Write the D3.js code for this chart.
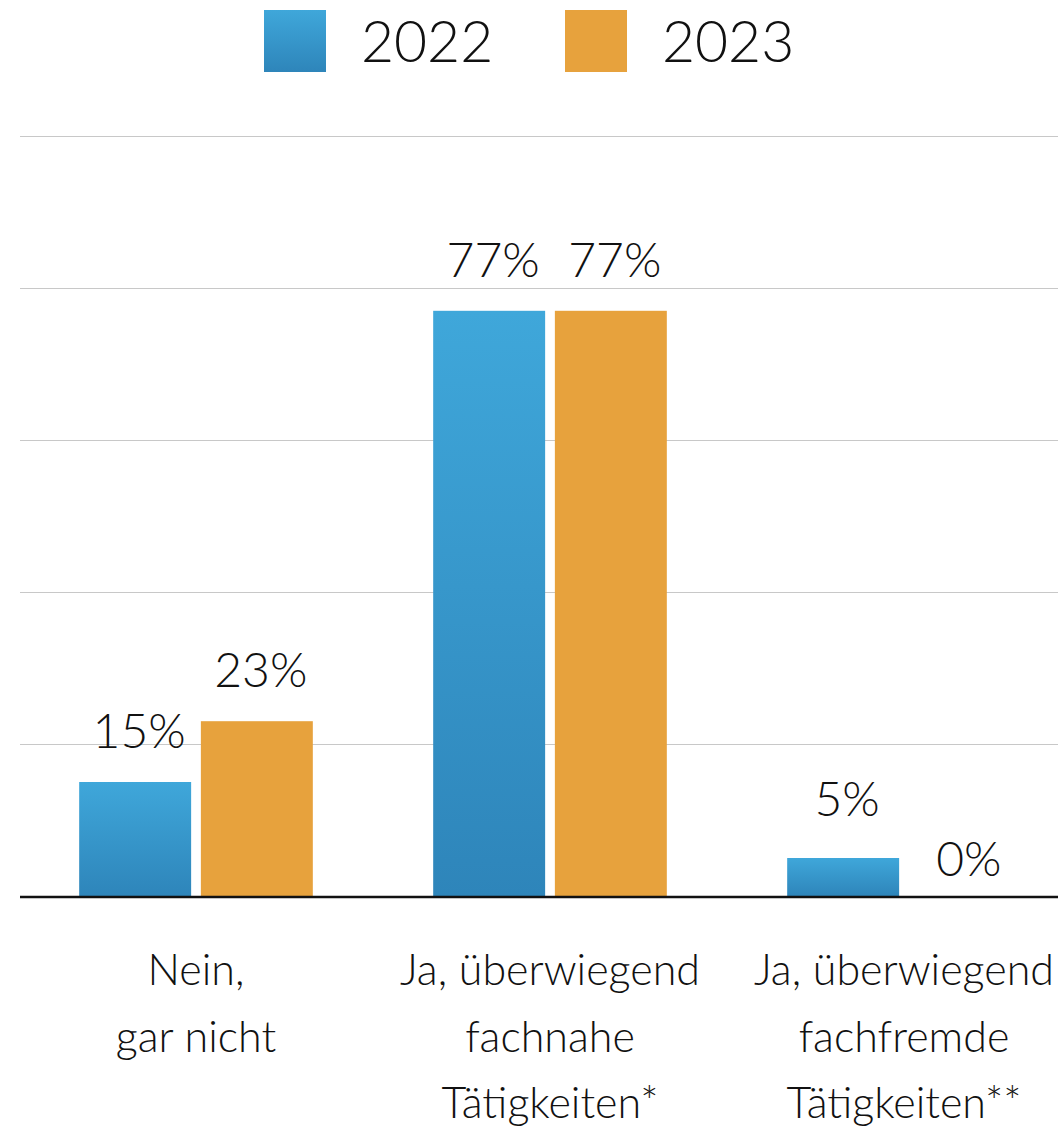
<!DOCTYPE html>
<html lang="de">
<head>
  <meta charset="UTF-8">
  <title>Tätigkeiten 2022 / 2023</title>
  <script src="https://cdn.jsdelivr.net/npm/d3@7"></script>
  <style>
    body { margin: 0; background: #fff; }
    text { font-family: Lato, "Open Sans", sans-serif; font-weight: 300; fill: #111; }
    .grid line { stroke: #c8c8c8; stroke-width: 1px; }
  </style>
</head>
<body>
<div class="chart"></div>
<script>
  // data
  const categories = [
    ['Nein,', 'gar nicht'],
    ['Ja, überwiegend', 'fachnahe', 'Tätigkeiten*'],
    ['Ja, überwiegend', 'fachfremde', 'Tätigkeiten**']
  ];
  const years = ['2022', '2023'];
  const values2022 = [15, 77, 5];
  const values2023 = [23, 77, 0];
  const yTicks = [0, 20, 40, 60, 80, 100];

  const W = 1058, H = 1133;
  const svg = d3.select('.chart').append('svg').attr('width', W).attr('height', H);

  const defs = svg.append('defs');
  const gb = defs.append('linearGradient').attr('id', 'blueGrad')
    .attr('x1', 0).attr('y1', 0).attr('x2', 0).attr('y2', 1);
  gb.append('stop').attr('offset', '0%').attr('stop-color', '#3fa7da');
  gb.append('stop').attr('offset', '100%').attr('stop-color', '#2e85ba');
  const color = {'2022': 'url(#blueGrad)', '2023': '#e7a23d'};

  const y = d3.scaleLinear().domain([0, 100]).range([896, 136]);
  const x0 = d3.scaleBand().domain(d3.range(categories.length)).range([19, 1081]).paddingInner(0.34).paddingOuter(0.17);
  const x1 = d3.scaleBand().domain(years).range([0, x0.bandwidth()]).paddingInner(0.08);

  // gridlines
  svg.append('g').attr('class', 'grid')
    .selectAll('line').data(yTicks.slice(1)).enter().append('line')
    .attr('x1', 20).attr('x2', W)
    .attr('y1', d => y(d) + 0.5).attr('y2', d => y(d) + 0.5);

  const rows = [];
  categories.forEach((c, i) => {
    rows.push({cat: i, year: '2022', v: values2022[i]});
    rows.push({cat: i, year: '2023', v: values2023[i]});
  });

  svg.append('g').selectAll('rect').data(rows).enter().append('rect')
    .attr('x', d => x0(d.cat) + x1(d.year))
    .attr('width', x1.bandwidth())
    .attr('y', d => y(d.v))
    .attr('height', d => y(0) - y(d.v))
    .attr('fill', d => color[d.year]);

  // small bars get their labels a little higher / lower like the original
  svg.append('g').selectAll('text').data(rows).enter().append('text')
    .attr('x', d => x0(d.cat) + x1(d.year) + x1.bandwidth() / 2 + 4)
    .attr('y', d => d.v === 0 ? y(0) - 20 : d.v < 10 ? y(d.v) - 42 : y(d.v) - 34)
    .attr('text-anchor', 'middle')
    .style('font-size', '48px')
    .text(d => d.v + '%');

  // baseline
  svg.append('line').attr('x1', 20).attr('x2', W)
    .attr('y1', y(0) + 1).attr('y2', y(0) + 1)
    .attr('stroke', '#111').attr('stroke-width', 2.5);

  // category labels
  const cl = svg.append('g').selectAll('text').data(categories).enter().append('text')
    .attr('text-anchor', 'middle')
    .style('font-size', '43px')
    .attr('transform', (d, i) => `translate(${x0(i) + x0.bandwidth() / 2} 985)`);
  cl.selectAll('tspan').data(d => d).enter().append('tspan')
    .attr('x', 0).attr('y', (d, i) => i * 66.5).text(d => d);

  // legend
  const leg = svg.append('g').selectAll('g').data(years).enter().append('g')
    .attr('transform', (d, i) => `translate(${264 + i * 301} 10)`);
  leg.append('rect').attr('width', 62).attr('height', 62).attr('fill', d => color[d]);
  leg.append('text').attr('x', 97).attr('y', 52).style('font-size', '57px').text(d => d);
</script>
</body>
</html>
